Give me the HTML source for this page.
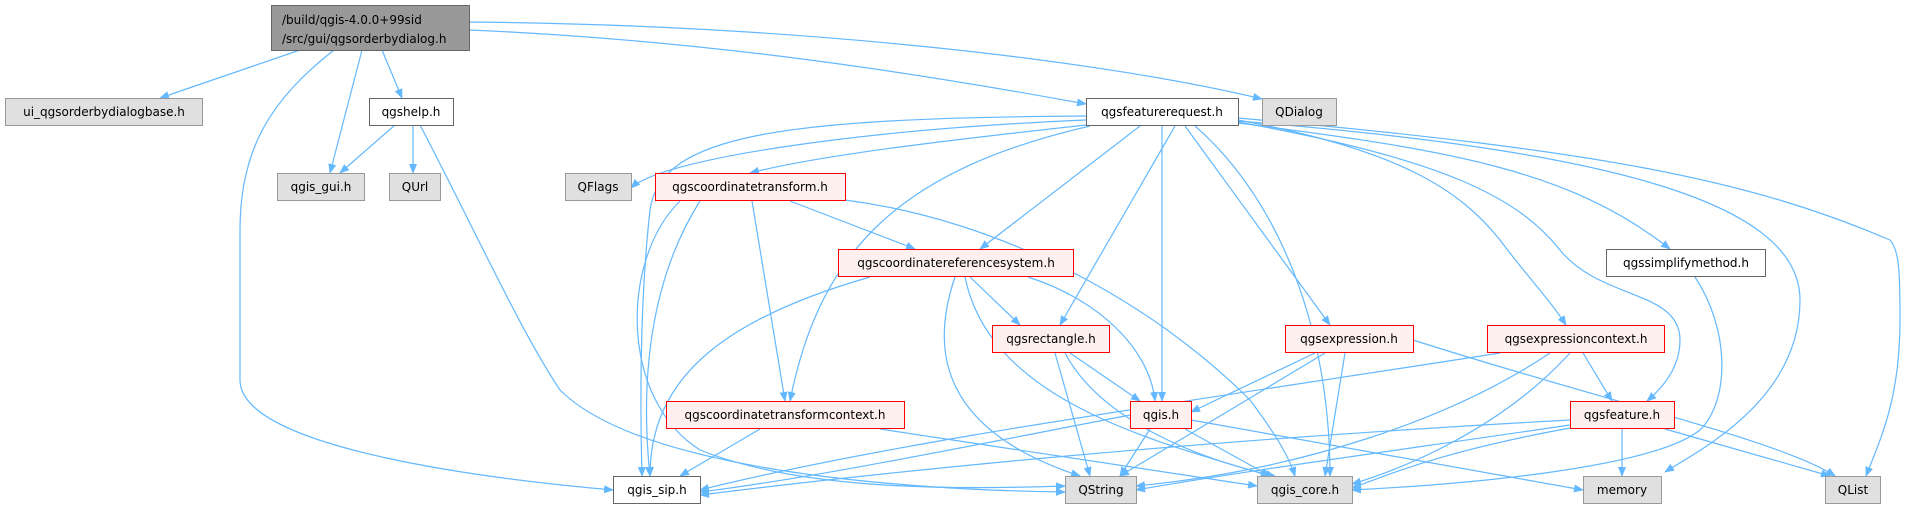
<!DOCTYPE html>
<html><head><meta charset="utf-8"><style>
html,body{margin:0;padding:0;background:#fff;}
svg{display:block;}
text{font-family:"DejaVu Sans","Liberation Sans",sans-serif;font-size:12px;fill:#000;}
.e{fill:none;stroke:#63b8ff;stroke-width:1.2;marker-end:url(#a);}
.g{fill:#e0e0e0;stroke:#999;}
.w{fill:#fff;stroke:#666;}
.r{fill:#fff0f0;stroke:#f00;}
</style></head><body>
<svg width="1909" height="509" viewBox="0 0 1909 509" xmlns="http://www.w3.org/2000/svg">
<defs><marker id="a" markerWidth="10" markerHeight="8" refX="9" refY="4" orient="auto" markerUnits="userSpaceOnUse"><path d="M0,0 L10,4 L0,8 z" fill="#63b8ff"/></marker></defs>
<g>
<path class="e" d="M300,50 L160,98"/>
<path class="e" d="M362,50 L330,173"/>
<path class="e" d="M382,50 L402,98"/>
<path class="e" d="M334,50 C270,100 240,150 240,230 L240,380 C240,450 500,480 613,490"/>
<path class="e" d="M469,30 C700,40 900,70 1086,104"/>
<path class="e" d="M469,22 C800,25 1100,60 1262,99"/>
<path class="e" d="M395,125 L340,173"/>
<path class="e" d="M413,125 L413,173"/>
<path class="e" d="M420,125 C480,240 520,330 560,390 C640,470 900,490 1065,492"/>
<path class="e" d="M1086,116 C780,118 660,135 650,210 C640,300 640,400 642,476"/>
<path class="e" d="M1086,120 C850,130 660,160 631,188"/>
<path class="e" d="M1086,125 C950,140 820,155 750,173"/>
<path class="e" d="M1140,126 L980,249"/>
<path class="e" d="M1090,126 C900,170 820,250 790,401"/>
<path class="e" d="M1175,126 L1060,325"/>
<path class="e" d="M1162,126 L1162,401"/>
<path class="e" d="M1185,126 L1330,325"/>
<path class="e" d="M1195,126 C1280,200 1330,330 1330,476"/>
<path class="e" d="M1238,120 C1400,150 1460,190 1500,240 C1530,280 1550,300 1566,325"/>
<path class="e" d="M1238,122 C1450,160 1520,200 1560,250 C1600,300 1680,290 1680,340 C1680,370 1660,390 1647,401"/>
<path class="e" d="M1238,123 C1450,150 1570,170 1670,249"/>
<path class="e" d="M1238,121 C1600,150 1800,200 1800,300 C1800,400 1700,450 1665,472"/>
<path class="e" d="M1238,118 C1600,150 1750,180 1890,240 C1900,250 1900,280 1900,320 C1900,400 1880,440 1866,476"/>
<path class="e" d="M790,201 L915,249"/>
<path class="e" d="M752,201 L785,401"/>
<path class="e" d="M700,201 C650,280 640,380 650,476"/>
<path class="e" d="M680,201 C620,260 620,400 700,450 C800,490 950,490 1065,486"/>
<path class="e" d="M845,200 C1000,220 1150,300 1250,400 C1280,440 1290,460 1295,476"/>
<path class="e" d="M970,277 L1020,325"/>
<path class="e" d="M1028,277 C1100,300 1150,350 1155,401"/>
<path class="e" d="M870,277 C720,320 650,380 650,476"/>
<path class="e" d="M955,277 C930,350 940,430 1080,476"/>
<path class="e" d="M965,277 C990,400 1150,440 1270,476"/>
<path class="e" d="M1070,353 L1140,401"/>
<path class="e" d="M1055,353 L1090,476"/>
<path class="e" d="M1065,353 C1100,420 1200,460 1275,476"/>
<path class="e" d="M1315,353 L1191,412"/>
<path class="e" d="M1325,353 L1120,476"/>
<path class="e" d="M1345,353 L1325,476"/>
<path class="e" d="M1413,340 C1600,400 1780,440 1835,476"/>
<path class="e" d="M1583,353 L1612,401"/>
<path class="e" d="M1500,353 C1200,400 900,440 700,490"/>
<path class="e" d="M1550,353 C1450,420 1300,470 1136,486"/>
<path class="e" d="M1570,353 C1500,430 1400,470 1352,484"/>
<path class="e" d="M1695,277 C1730,330 1730,400 1700,430 C1650,470 1450,485 1352,490"/>
<path class="e" d="M760,429 L680,476"/>
<path class="e" d="M880,429 L1257,486"/>
<path class="e" d="M1130,415 C950,450 800,480 700,492"/>
<path class="e" d="M1150,429 L1120,476"/>
<path class="e" d="M1185,429 L1270,476"/>
<path class="e" d="M1191,420 L1583,490"/>
<path class="e" d="M1622,429 L1622,476"/>
<path class="e" d="M1665,429 L1830,476"/>
<path class="e" d="M1570,420 C1200,440 900,470 700,495"/>
<path class="e" d="M1570,425 C1400,450 1250,470 1136,490"/>
<path class="e" d="M1570,428 C1450,450 1400,470 1352,488"/>
</g>
<g>
<rect x="271.5" y="5.5" width="198" height="45" fill="#999" stroke="#666"/>
<text x="282" y="24">/build/qgis-4.0.0+99sid</text>
<text x="282" y="43">/src/gui/qgsorderbydialog.h</text>

<rect class="g" x="5.5" y="98.5" width="197" height="27"/><text x="104" y="116" text-anchor="middle">ui_qgsorderbydialogbase.h</text>
<rect class="w" x="369.5" y="98.5" width="84" height="27"/><text x="411" y="116" text-anchor="middle">qgshelp.h</text>
<rect class="w" x="1086.5" y="98.5" width="152" height="27"/><text x="1162" y="116" text-anchor="middle">qgsfeaturerequest.h</text>
<rect class="g" x="1262.5" y="98.5" width="74" height="27"/><text x="1299" y="116" text-anchor="middle">QDialog</text>

<rect class="g" x="277.5" y="173.5" width="87" height="27"/><text x="321" y="191" text-anchor="middle">qgis_gui.h</text>
<rect class="g" x="389.5" y="173.5" width="51" height="27"/><text x="415" y="191" text-anchor="middle">QUrl</text>
<rect class="g" x="565.5" y="173.5" width="66" height="27"/><text x="598" y="191" text-anchor="middle">QFlags</text>
<rect class="r" x="655.5" y="173.5" width="190" height="27"/><text x="750" y="191" text-anchor="middle">qgscoordinatetransform.h</text>

<rect class="r" x="838.5" y="249.5" width="235" height="27"/><text x="956" y="267" text-anchor="middle">qgscoordinatereferencesystem.h</text>
<rect class="w" x="1606.5" y="249.5" width="159" height="27"/><text x="1686" y="267" text-anchor="middle">qgssimplifymethod.h</text>

<rect class="r" x="992.5" y="325.5" width="117" height="27"/><text x="1051" y="343" text-anchor="middle">qgsrectangle.h</text>
<rect class="r" x="1285.5" y="325.5" width="128" height="27"/><text x="1349" y="343" text-anchor="middle">qgsexpression.h</text>
<rect class="r" x="1487.5" y="325.5" width="177" height="27"/><text x="1576" y="343" text-anchor="middle">qgsexpressioncontext.h</text>

<rect class="r" x="666.5" y="401.5" width="238" height="27"/><text x="785" y="419" text-anchor="middle">qgscoordinatetransformcontext.h</text>
<rect class="r" x="1130.5" y="401.5" width="61" height="27"/><text x="1161" y="419" text-anchor="middle">qgis.h</text>
<rect class="r" x="1570.5" y="401.5" width="104" height="27"/><text x="1622" y="419" text-anchor="middle">qgsfeature.h</text>

<rect class="w" x="613.5" y="476.5" width="87" height="27"/><text x="657" y="494" text-anchor="middle">qgis_sip.h</text>
<rect class="g" x="1065.5" y="476.5" width="71" height="27"/><text x="1101" y="494" text-anchor="middle">QString</text>
<rect class="g" x="1257.5" y="476.5" width="95" height="27"/><text x="1305" y="494" text-anchor="middle">qgis_core.h</text>
<rect class="g" x="1583.5" y="476.5" width="78" height="27"/><text x="1622" y="494" text-anchor="middle">memory</text>
<rect class="g" x="1825.5" y="476.5" width="55" height="27"/><text x="1853" y="494" text-anchor="middle">QList</text>
</g>
</svg>
</body></html>
